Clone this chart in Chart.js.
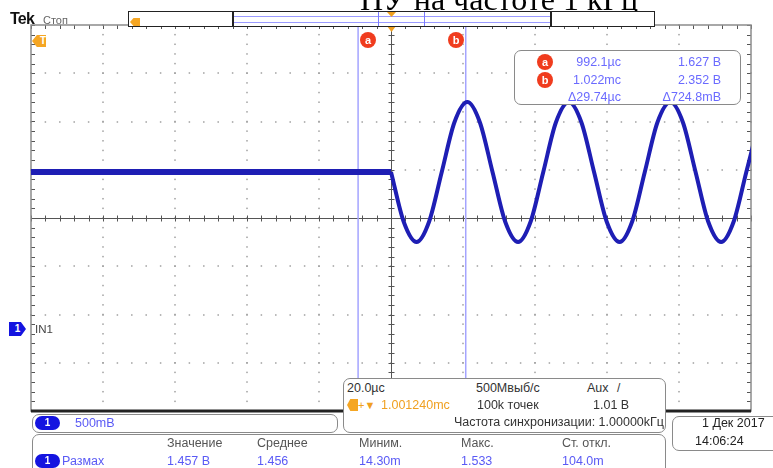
<!DOCTYPE html>
<html><head><meta charset="utf-8">
<script src="https://cdn.jsdelivr.net/npm/chart.js@4.4.1/dist/chart.umd.min.js"></script>
<style>
body{margin:0;background:#fff;}
#wrap{position:relative;width:773px;height:468px;overflow:hidden;font-family:"Liberation Sans",Arial,sans-serif;background:#fff;}
canvas{position:absolute;left:0;top:0;}
.t{position:absolute;white-space:nowrap;font-size:12.5px;line-height:14px;}
.box{position:absolute;background:#fff;border:1.5px solid #8a8a8a;border-radius:7px;box-sizing:border-box;}
.circ{position:absolute;width:16px;height:16px;border-radius:50%;background:#f03c1e;color:#fff;font:bold 11px/16px "Liberation Sans",Arial,sans-serif;text-align:center;}
.pill{position:absolute;width:25px;height:14px;border-radius:7px;background:#1414e0;color:#fff;font:bold 10px/14px "Liberation Sans",Arial,sans-serif;text-align:center;}
.r{position:absolute;}
</style></head><body><div id="wrap"><canvas id="c" width="773" height="468"></canvas></div>
<script>
// ---- data (time relative to trigger, µs; amplitude, V) ----
const flatTimeUs = [-100, 0];
const flatVolts  = [1.627, 1.627];
const sineTimeUs = [0, 3.5, 7.1, 10.6, 14.1, 17.6, 21.2, 24.7, 28.2, 31.7, 35.3, 38.8, 42.3, 45.8, 49.4, 52.9, 56.4, 59.9, 63.5, 67.0, 70.5, 74.0, 77.6, 81.1, 84.6, 88.1, 91.7, 95.2, 98.7, 102.2];
const sineVolts  = [1.627, 1.114, 0.902, 1.114, 1.627, 2.140, 2.352, 2.140, 1.627, 1.114, 0.902, 1.114, 1.627, 2.140, 2.352, 2.140, 1.627, 1.114, 0.902, 1.114, 1.627, 2.140, 2.352, 2.140, 1.627, 1.114, 0.902, 1.114, 1.627, 2.140];
const cursorTimesUs = [-9.14, 20.76];
const xRange = [-100, 100];      // 10 div x 20 µs
const yRange = [-0.85, 3.15];    // 8 div x 500 mV
const xDiv = 20, xMinor = 4, yDiv = 0.5, yMinor = 0.1;
const yCenter = 1.15;

const readoutLeft  = ['992.1µc', '1.022mc', 'Δ29.74µc'];
const readoutRight = ['1.627 В', '2.352 В', 'Δ724.8mВ'];
const measHeaders  = ['Значение', 'Среднее', 'Миним.', 'Макс.', 'Ст. откл.'];
const measValues   = ['1.457 В', '1.456', '14.30m', '1.533', '104.0m'];

const scopePlugin = {
  id: 'scope',
  beforeDatasetsDraw(chart) {
    const {ctx, chartArea: a, scales: {x, y}} = chart;
    ctx.save();
    // dotted grid
    ctx.fillStyle = '#a0a0a0';
    for (let tx = xRange[0] + xDiv; tx < xRange[1] - 1e-6; tx += xDiv) {
      if (Math.abs(tx) < 1e-6) continue;
      const px = Math.round(x.getPixelForValue(tx));
      for (let v = yRange[0]; v <= yRange[1] + 1e-6; v += yMinor) {
        const py = y.getPixelForValue(v);
        ctx.fillRect(px - 0.75, py - 0.75, 1.5, 1.5);
      }
    }
    for (let k = 1; k < 8; k++) {
      const v = yRange[0] + k * yDiv;
      if (Math.abs(v - yCenter) < 1e-6) continue;
      const py = Math.round(y.getPixelForValue(v));
      for (let t = xRange[0]; t <= xRange[1] + 1e-6; t += xMinor) {
        const px = x.getPixelForValue(t);
        ctx.fillRect(px - 0.75, py - 0.75, 1.5, 1.5);
      }
    }
    // centre cross with ticks
    ctx.strokeStyle = '#555';
    ctx.lineWidth = 1;
    const cx = Math.round(x.getPixelForValue(0)) + 0.5;
    const cy = Math.round(y.getPixelForValue(yCenter)) + 0.5;
    ctx.beginPath();
    ctx.moveTo(a.left, cy); ctx.lineTo(a.right, cy);
    ctx.moveTo(cx, a.top); ctx.lineTo(cx, a.bottom);
    for (let t = xRange[0]; t <= xRange[1] + 1e-6; t += xMinor) {
      const px = Math.round(x.getPixelForValue(t)) + 0.5;
      ctx.moveTo(px, cy - 3); ctx.lineTo(px, cy + 3);
      ctx.moveTo(px, a.top); ctx.lineTo(px, a.top + 4);
    }
    for (let v = yRange[0]; v <= yRange[1] + 1e-6; v += yMinor) {
      const py = Math.round(y.getPixelForValue(v)) + 0.5;
      ctx.moveTo(cx - 3, py); ctx.lineTo(cx + 3, py);
      ctx.moveTo(a.left, py); ctx.lineTo(a.left + 4, py);
      ctx.moveTo(a.right, py); ctx.lineTo(a.right - 4, py);
    }
    ctx.stroke();
    // frame
    ctx.strokeStyle = '#8c8c8c';
    ctx.lineWidth = 1.5;
    ctx.strokeRect(a.left, a.top, a.right - a.left, a.bottom - a.top);
    ctx.strokeStyle = '#222';
    ctx.lineWidth = 3;
    ctx.beginPath(); ctx.moveTo(a.left, a.bottom); ctx.lineTo(a.right, a.bottom); ctx.stroke();
    // cursors
    ctx.strokeStyle = '#a4a4ff';
    ctx.lineWidth = 1.5;
    cursorTimesUs.forEach(t => {
      const px = x.getPixelForValue(t);
      ctx.beginPath(); ctx.moveTo(px, a.top); ctx.lineTo(px, a.bottom); ctx.stroke();
    });
    // trigger position marker
    ctx.fillStyle = '#f0a020';
    ctx.beginPath();
    ctx.moveTo(cx - 4.5, a.top + 1); ctx.lineTo(cx + 4.5, a.top + 1); ctx.lineTo(cx, a.top + 7); ctx.closePath();
    ctx.fill();
    ctx.restore();
  }
};

new Chart(document.getElementById('c'), {
  type: 'line',
  data: {
    datasets: [
      {data: flatTimeUs.map((t, i) => ({x: t, y: flatVolts[i]})), borderColor: '#1e1eb4', borderWidth: 6, pointRadius: 0, tension: 0},
      {data: sineTimeUs.map((t, i) => ({x: t, y: sineVolts[i]})), borderColor: '#1e1eb4', borderWidth: 4, pointRadius: 0, cubicInterpolationMode: 'monotone'}
    ]
  },
  options: {
    responsive: false, animation: false, events: [],
    layout: {padding: {left: 31, top: 25, right: 22, bottom: 57}},
    plugins: {legend: {display: false}, tooltip: {enabled: false}},
    scales: {
      x: {type: 'linear', display: false, min: xRange[0], max: xRange[1]},
      y: {type: 'linear', display: false, min: yRange[0], max: yRange[1]}
    }
  },
  plugins: [scopePlugin]
});

// ---- overlays ----
const wrap = document.getElementById('wrap');
function el(cls, css, text) {
  const d = document.createElement('div');
  d.className = cls;
  Object.assign(d.style, css);
  if (text !== undefined) d.textContent = text;
  wrap.appendChild(d);
  return d;
}
function T(text, x, y, o = {}) {
  const css = {top: (y - 7) + 'px', color: o.color || '#333'};
  if (o.size) css.fontSize = o.size + 'px';
  if (o.weight) css.fontWeight = o.weight;
  if (o.font) css.fontFamily = o.font;
  if (o.ls) css.letterSpacing = o.ls + 'px';
  if (o.align === 'right') css.right = (773 - x) + 'px'; else css.left = x + 'px';
  return el('t', css, text);
}
// title
el('t', {left: '360px', top: '-17px', fontFamily: '"Liberation Serif","Times New Roman",serif', fontSize: '32px', lineHeight: '32px', color: '#000'}, 'ПУ на частоте 1 кГц');
// Tek / Стоп
T('Tek', 10, 19, {weight: 'bold', size: 16, color: '#111', ls: -0.8});
T('Стоп', 43, 20, {size: 11, color: '#666'});
// top record bar
el('r', {left: '128px', top: '11px', width: '527px', height: '16px', border: '1px solid #222', boxSizing: 'border-box', background: '#fff'});
el('r', {left: '234px', top: '16px', width: '316px', height: '1px', background: '#9a9aff'});
el('r', {left: '234px', top: '22px', width: '316px', height: '1px', background: '#9a9aff'});
el('r', {left: '378px', top: '12px', width: '1px', height: '14px', background: '#7a7aff'});
el('r', {left: '424px', top: '12px', width: '1px', height: '14px', background: '#7a7aff'});
el('r', {left: '232px', top: '11px', width: '2px', height: '16px', background: '#222'});
el('r', {left: '550px', top: '11px', width: '2px', height: '16px', background: '#222'});
el('r', {left: '387px', top: '12px', width: '9px', height: '5px', background: '#f0a020', clipPath: 'polygon(0 0,100% 0,50% 100%)'});
el('r', {left: '130px', top: '18px', width: '10px', height: '8px', background: '#f5a623', clipPath: 'polygon(35% 0,100% 0,100% 100%,35% 100%,0 50%)'});
// trigger level marker (orange) top-left
el('t', {left: '32px', top: '35px', width: '14px', height: '12px', background: '#f5a623', color: '#fff', fontSize: '10px', lineHeight: '12px', fontWeight: 'bold', textAlign: 'right', boxSizing: 'border-box', clipPath: 'polygon(35% 0,100% 0,100% 100%,35% 100%,0 50%)'}, 'T ');
// cursor labels
el('circ', {left: '360px', top: '32px'}, 'a');
el('circ', {left: '448px', top: '32px'}, 'b');
// channel 1 ground marker
el('t', {left: '9px', top: '322px', width: '17px', height: '14px', background: '#1414e0', color: '#fff', fontSize: '10px', lineHeight: '14px', fontWeight: 'bold', textAlign: 'center', clipPath: 'polygon(0 0,70% 0,100% 50%,70% 100%,0 100%)'}, '1');
T('IN1', 35, 329, {size: 11.5, color: '#444'});
// cursor readout box
el('box', {left: '514px', top: '50px', width: '227px', height: '55px'});
el('circ', {left: '537px', top: '54px'}, 'a');
el('circ', {left: '537px', top: '72px'}, 'b');
const ry = [62, 80, 97];
readoutLeft.forEach((s, i) => T(s, 621, ry[i], {align: 'right', color: '#6a6aff'}));
readoutRight.forEach((s, i) => T(s, 721, ry[i], {align: 'right', color: '#6a6aff'}));
// horizontal / acquisition box
el('box', {left: '343px', top: '378px', width: '323px', height: '55px'});
T('20.0µc', 347, 388);
T('500Мвыб/с', 476, 388);
T('Aux', 587, 388);
T('/', 617, 388, {size: 12});
el('r', {left: '347px', top: '399px', width: '11px', height: '12px', background: '#f5a623', clipPath: 'polygon(30% 0,100% 0,100% 100%,30% 100%,0 50%)'});
T('+▼', 358, 405, {color: '#f0a020', size: 11});
T('1.001240mc', 381, 405, {color: '#f0a020'});
T('100k точек', 477, 405);
T('1.01 В', 593, 405);
T('Частота синхронизации: 1.00000kГц', 664, 422, {align: 'right'});
// date box
el('box', {left: '672px', top: '416px', width: '120px', height: '35px'});
T('1 Дек 2017', 702, 423, {color: '#222'});
T('14:06:24', 695, 441, {color: '#222'});
// channel scale box
el('box', {left: '32px', top: '414px', width: '306px', height: '19px'});
el('pill', {left: '35px', top: '416px'}, '1');
T('500mВ', 75, 423, {color: '#5a5af5'});
// measurement box
el('box', {left: '32px', top: '434px', width: '634px', height: '45px'});
const mx = [167, 257, 359, 461, 562];
measHeaders.forEach((s, i) => T(s, mx[i], 443, {color: '#555'}));
el('pill', {left: '35px', top: '454px'}, '1');
T('Размах', 62, 461, {color: '#5a5af5'});
measValues.forEach((s, i) => T(s, mx[i], 461, {color: '#5a5af5'}));
</script></body></html>
